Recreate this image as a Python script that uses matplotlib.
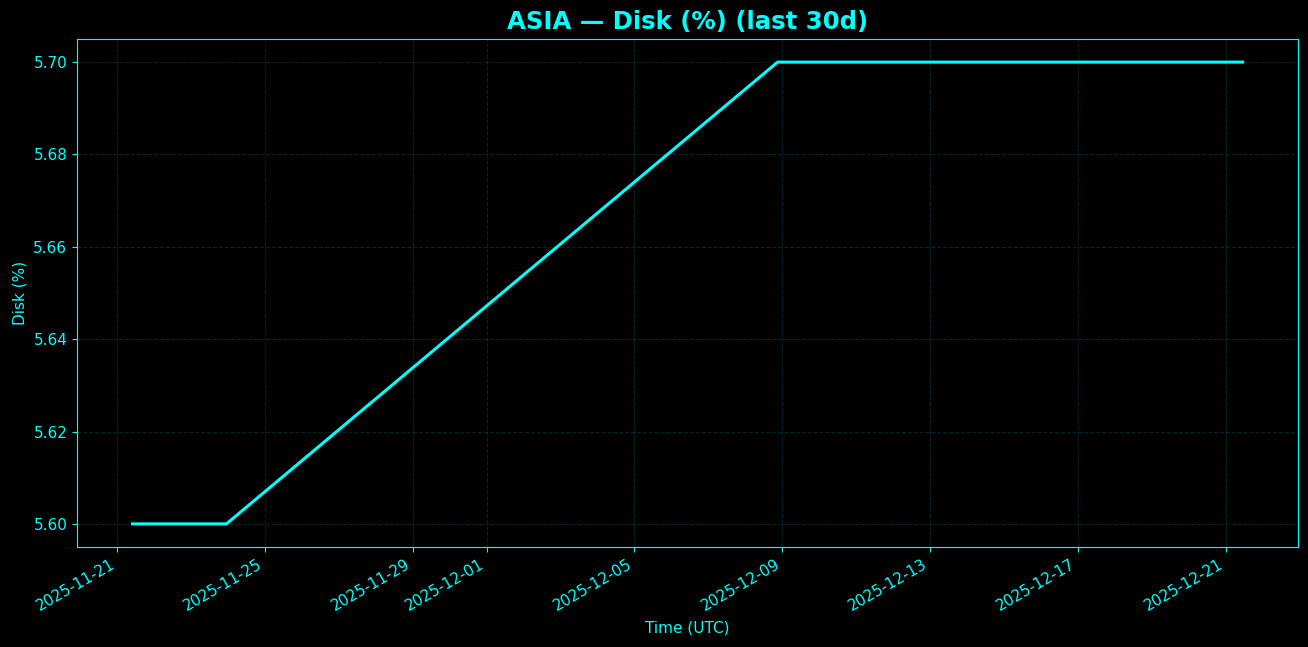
import matplotlib
matplotlib.use('Agg')
import matplotlib.pyplot as plt
import matplotlib.dates as mdates
import pandas as pd

# sample points
times = ['2025-11-21 10:00', '2025-11-23 23:00', '2025-12-08 21:00', '2025-12-21 11:00']
disk_pct = [5.60, 5.60, 5.70, 5.70]

CYAN = '#00ffff'


def plot_disk(times, values):
    t = pd.to_datetime(times)
    fig, ax = plt.subplots(figsize=(13.08, 6.47), dpi=100)
    fig.patch.set_facecolor('black')
    ax.set_facecolor('black')

    ax.plot(t, values, color=CYAN, linewidth=2.2)

    ax.set_title('ASIA — Disk (%) (last 30d)', color=CYAN, fontsize=17.6, fontweight='bold', pad=7)
    ax.set_xlabel('Time (UTC)', color=CYAN, fontsize=11, labelpad=5)
    ax.set_ylabel('Disk (%)', color=CYAN, fontsize=11)
    ax.tick_params(colors=CYAN, labelsize=11)
    for spine in ax.spines.values():
        spine.set_color(CYAN)
    ax.grid(True, linestyle='--', color=CYAN, alpha=0.15)
    ax.xaxis.set_major_formatter(mdates.DateFormatter('%Y-%m-%d'))
    ax.yaxis.set_major_formatter(matplotlib.ticker.FormatStrFormatter('%.2f'))
    fig.autofmt_xdate()

    # match the reference layout instead of tight_layout
    fig.subplots_adjust(left=0.0589, right=0.9924, top=0.9397, bottom=0.1546)
    plt.savefig('out.png', facecolor=fig.get_facecolor())


if __name__ == "__main__":
    plot_disk(times, disk_pct)
